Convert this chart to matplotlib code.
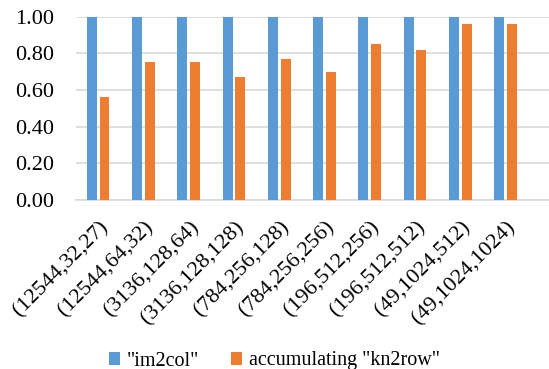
import numpy as np
import matplotlib.pyplot as plt

plt.rcParams['font.family'] = ['Liberation Serif', 'DejaVu Serif']

labels = ["(12544,32,27)", "(12544,64,32)", "(3136,128,64)", "(3136,128,128)",
          "(784,256,128)", "(784,256,256)", "(196,512,256)", "(196,512,512)",
          "(49,1024,512)", "(49,1024,1024)"]
im2col = [1.00, 1.00, 1.00, 1.00, 1.00, 1.00, 1.00, 1.00, 1.00, 1.00]
kn2row = [0.564, 0.751, 0.751, 0.669, 0.767, 0.698, 0.849, 0.82, 0.96, 0.958]

blue = "#5B9BD5"
orange = "#ED7D31"

fig = plt.figure(figsize=(5.49, 3.69), dpi=100)
ax = fig.add_axes([76 / 549, 1 - 200 / 369, 1 - 76 / 549, (200 - 16.7) / 369])

x = np.arange(len(labels))
w = 0.22
ax.bar(x - 0.15, im2col, w, color=blue, label='"im2col"', zorder=3)
ax.bar(x + 0.13, kn2row, w, color=orange, label='accumulating "kn2row"', zorder=3)

ax.set_ylim(0, 1.0)
ax.set_xlim(-0.5, 9.95)
ax.set_yticks(np.arange(0, 1.01, 0.2))
ax.set_yticklabels([f"{v:.2f}" for v in np.arange(0, 1.01, 0.2)])
ax.set_xticks(x)
ax.set_xticklabels(labels, rotation=45, ha='right', rotation_mode='anchor')
ax.tick_params(axis='both', length=0, labelsize=16)
ax.tick_params(axis='y', pad=16)
ax.tick_params(axis='x', pad=13)
ax.grid(axis='y', color='#d9d9d9', linewidth=1.2, zorder=0)
ax.set_axisbelow(True)
for s in ['top', 'right', 'left']:
    ax.spines[s].set_visible(False)
ax.spines['bottom'].set_color('#d9d9d9')
ax.spines['bottom'].set_linewidth(1.2)

fig.legend(loc='center', bbox_to_anchor=(0.5, 8 / 369), ncol=2, frameon=False,
           fontsize=14.5, handlelength=0.55, handleheight=0.6, handletextpad=0.35,
           columnspacing=1.6)

fig.savefig("out.png", dpi=100)
